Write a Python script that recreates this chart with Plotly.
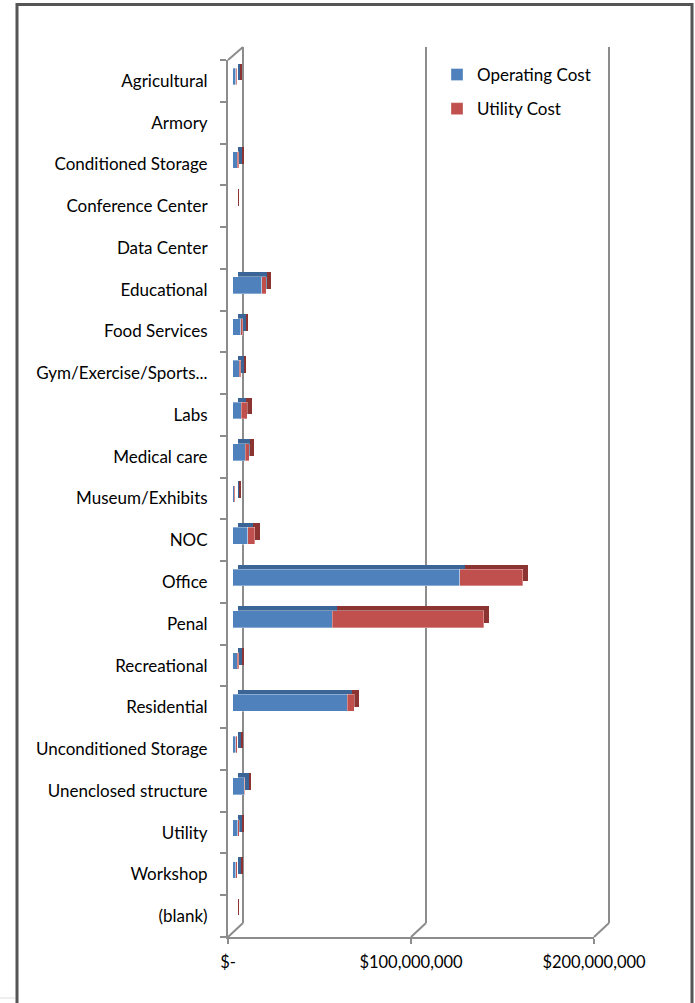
import plotly.graph_objects as go

# ---------------- data ----------------
categories = ["Agricultural", "Armory", "Conditioned Storage", "Conference Center",
              "Data Center", "Educational", "Food Services", "Gym/Exercise/Sports...",
              "Labs", "Medical care", "Museum/Exhibits", "NOC", "Office", "Penal",
              "Recreational", "Residential", "Unconditioned Storage",
              "Unenclosed structure", "Utility", "Workshop", "(blank)"]
operating_cost = [1.6e6, 0, 2.5e6, 0, 0, 16.0e6, 4.5e6, 3.6e6, 4.6e6, 6.9e6, 0.9e6,
                  8.2e6, 124.2e6, 54.3e6, 2.4e6, 62.7e6, 1.8e6, 6.2e6, 2.7e6, 1.8e6, 0]
utility_cost = [0.6e6, 0, 0.7e6, 0.4e6, 0, 2.2e6, 1.0e6, 0.8e6, 3.3e6, 2.2e6, 0.5e6,
                3.9e6, 34.4e6, 83.0e6, 0.8e6, 3.8e6, 0.8e6, 0.4e6, 0.9e6, 0.6e6, 0.4e6]
x_tickvals = [0, 100e6, 200e6]
x_ticktext = ["$-", "$100,000,000", "$200,000,000"]
series_names = ["Operating Cost", "Utility Cost"]

# ---------------- geometry (pixels) ----------------
W, H = 695, 1003
XMAX = 200e6
PAD = 1e6  # small range padding so that the wall edge gridlines are kept
FONT = "Lato"
FS = 17
FS_X = 16.5
GREY = "#8c8c8c"


def fx(p):
    return p / W


def fy(p):
    return 1 - p / H


front = dict(x0=228, x1=594, y0=60, y1=937)
back = dict(x0=243, x1=609, y0=47, y1=923)
barf = dict(x0=232.7, x1=598.7, y0=55.5, y1=932.5)
bars = dict(x0=237.7, x1=603.7, y0=51.0, y1=928.0)


def dom(g):
    return [fx(g["x0"]), fx(g["x1"])], [fy(g["y1"]), fy(g["y0"])]


fig = go.Figure()

# empty traces so the wall / front-axis subplots get drawn
fig.add_trace(go.Scatter(x=[None], y=[None], xaxis="x", yaxis="y", showlegend=False,
                         hoverinfo="skip"))

# shadow (depth) bars
shadow_cols = ["#3B6596", "#8C3432"]
front_cols = ["#4F81BD", "#C0504D"]
for name, vals, col in zip(series_names, [operating_cost, utility_cost], shadow_cols):
    fig.add_trace(go.Bar(y=categories, x=vals, orientation="h", name=name,
                         marker=dict(color=col, line=dict(width=0)), width=0.4,
                         xaxis="x2", yaxis="y2", showlegend=False, hoverinfo="skip"))
# front bars
for name, vals, col in zip(series_names, [operating_cost, utility_cost], front_cols):
    fig.add_trace(go.Bar(y=categories, x=vals, orientation="h", name=name,
                         marker=dict(color=col, line=dict(width=0.6, color="rgba(255,255,255,0.55)")),
                         width=0.4, xaxis="x3", yaxis="y3", legendgroup=name))

fig.add_trace(go.Scatter(x=[None], y=[None], xaxis="x4", yaxis="y4", showlegend=False,
                         hoverinfo="skip"))

cat_range = [len(categories) - 0.5, -0.5]
hidden = dict(showgrid=False, zeroline=False, showticklabels=False, ticks="",
              showline=False, fixedrange=True, automargin=False)

# back wall: range padded a little, domain widened by the same amount in pixels
pad_px = PAD / XMAX * (back["x1"] - back["x0"])
xd, yd = dom(back)
xd = [fx(back["x0"] - pad_px), fx(back["x1"] + pad_px)]
fig.update_layout(
    xaxis=dict(domain=xd, range=[-PAD, XMAX + PAD], anchor="y", tickmode="array",
               tickvals=x_tickvals, showgrid=True, gridcolor=GREY, gridwidth=2,
               zeroline=False, showticklabels=False, ticks="", showline=False,
               automargin=False),
    yaxis=dict(domain=yd, range=[0, 1], anchor="x", **hidden),
)
xd, yd = dom(bars)
fig.update_layout(
    xaxis2=dict(domain=xd, range=[0, XMAX], anchor="y2", **hidden),
    yaxis2=dict(domain=yd, range=cat_range, anchor="x2", type="category",
                categoryorder="array", categoryarray=categories, **hidden),
)
xd, yd = dom(barf)
fig.update_layout(
    xaxis3=dict(domain=xd, range=[0, XMAX], anchor="y3", **hidden),
    yaxis3=dict(domain=yd, range=cat_range, anchor="x3", type="category",
                categoryorder="array", categoryarray=categories, **hidden),
)
xd, yd = dom(front)
fig.update_layout(
    xaxis4=dict(domain=xd, range=[0, XMAX], anchor="y4", tickmode="array",
                tickvals=x_tickvals, ticktext=x_ticktext, showgrid=False, zeroline=False,
                showline=True, linecolor=GREY, linewidth=2, ticks="outside", ticklen=5,
                tickwidth=2, tickcolor=GREY, ticklabelstandoff=4, automargin=False,
                tickfont=dict(family=FONT, size=FS_X, color="#000")),
    yaxis4=dict(domain=yd, range=cat_range, anchor="x4", tickmode="array",
                tickvals=list(range(len(categories))), ticktext=categories,
                showgrid=False, zeroline=False, showline=True, linecolor=GREY,
                linewidth=2, ticks="", ticklabelstandoff=15, automargin=False,
                minor=dict(tickmode="array",
                           tickvals=[i - 0.5 for i in range(len(categories) + 1)],
                           ticks="outside", ticklen=6, tickwidth=2, tickcolor=GREY,
                           showgrid=False),
                tickfont=dict(family=FONT, size=FS, color="#000")),
)

# 3-D floor / wall connectors
conn = []
for fxp, bxp in zip([front["x0"], (front["x0"] + front["x1"]) / 2, front["x1"]],
                    [back["x0"], (back["x0"] + back["x1"]) / 2, back["x1"]]):
    conn.append(dict(type="line", xref="paper", yref="paper", x0=fx(fxp), y0=fy(front["y1"]),
                     x1=fx(bxp), y1=fy(back["y1"]), line=dict(color=GREY, width=2)))
conn.append(dict(type="line", xref="paper", yref="paper", x0=fx(front["x0"]), y0=fy(front["y0"]),
                 x1=fx(back["x0"]), y1=fy(back["y0"]), line=dict(color=GREY, width=2)))
# outer frame
conn.append(dict(type="rect", xref="paper", yref="paper", x0=fx(17), x1=fx(692), y0=fy(1010),
                 y1=fy(4.5), line=dict(color="#555555", width=3), fillcolor="rgba(0,0,0,0)"))
conn.append(dict(type="line", xref="paper", yref="paper", x0=0, x1=fx(15), y0=fy(998), y1=fy(998),
                 line=dict(color="#dddddd", width=1)))

fig.update_layout(
    shapes=conn,
    barmode="stack",
    width=W, height=H,
    margin=dict(l=0, r=0, t=0, b=0, autoexpand=False),
    paper_bgcolor="white",
    plot_bgcolor="rgba(0,0,0,0)",
    font=dict(family=FONT, size=FS, color="#000"),
    legend=dict(x=fx(437), y=fy(57), xanchor="left", yanchor="top",
                bgcolor="rgba(0,0,0,0)", font=dict(family=FONT, size=FS, color="#000"),
                traceorder="grouped", tracegroupgap=9, itemwidth=30),
    bargap=0.6,
)

fig.write_html("out.html", config={"displayModeBar": False},
               post_script="document.body.style.margin='0';document.body.style.overflow='hidden';")
